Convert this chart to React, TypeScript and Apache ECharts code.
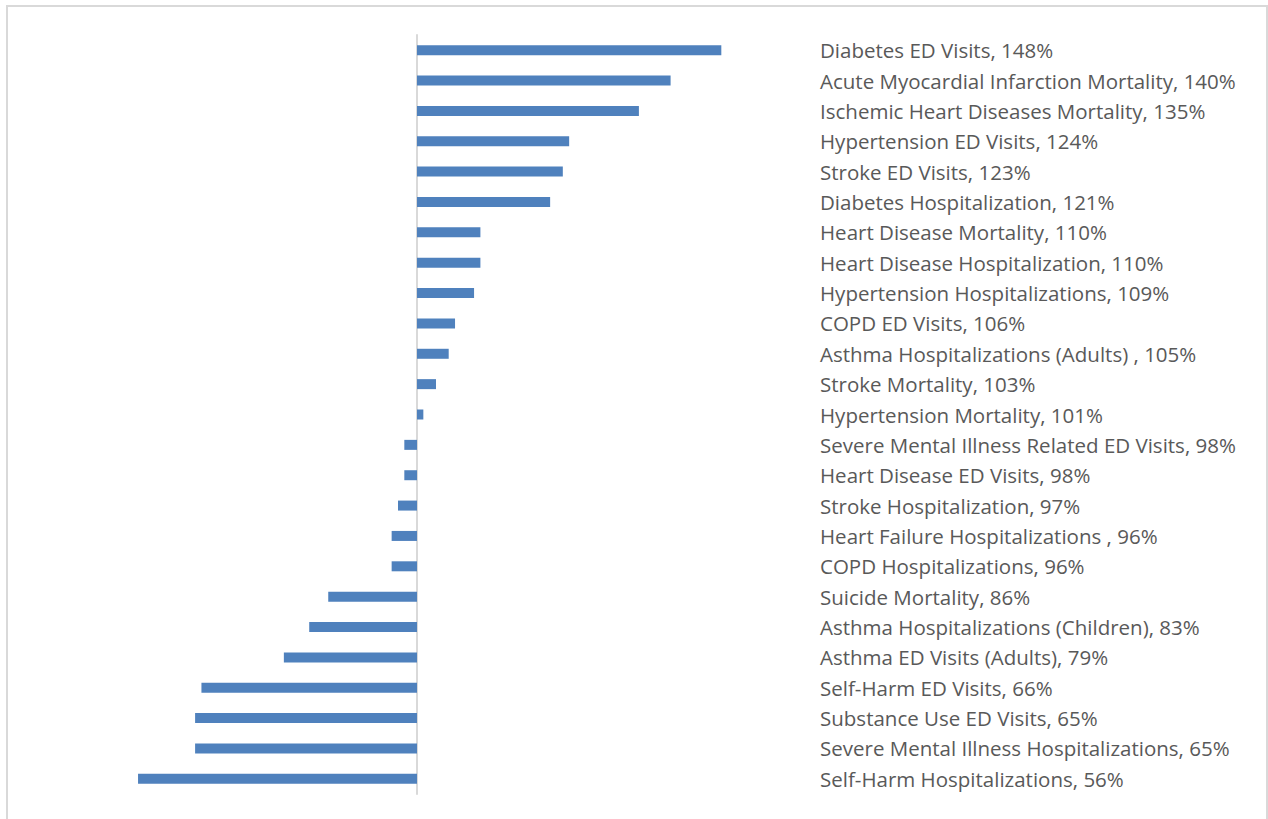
import React, { useEffect, useRef } from "react";
import * as echarts from "echarts";

// Rate ratios (%) by measure, ordered from highest to lowest
const measures: string[] = [
  "Diabetes ED Visits",
  "Acute Myocardial Infarction Mortality",
  "Ischemic Heart Diseases Mortality",
  "Hypertension ED Visits",
  "Stroke ED Visits",
  "Diabetes Hospitalization",
  "Heart Disease Mortality",
  "Heart Disease Hospitalization",
  "Hypertension Hospitalizations",
  "COPD ED Visits",
  "Asthma Hospitalizations (Adults) ",
  "Stroke Mortality",
  "Hypertension Mortality",
  "Severe Mental Illness Related ED Visits",
  "Heart Disease ED Visits",
  "Stroke Hospitalization",
  "Heart Failure Hospitalizations ",
  "COPD Hospitalizations",
  "Suicide Mortality",
  "Asthma Hospitalizations (Children)",
  "Asthma ED Visits (Adults)",
  "Self-Harm ED Visits",
  "Substance Use ED Visits",
  "Severe Mental Illness Hospitalizations",
  "Self-Harm Hospitalizations",
];

const ratios: number[] = [
  148, 140, 135, 124, 123, 121, 110, 110, 109, 106, 105, 103, 101, 98, 98, 97, 96, 96, 86, 83, 79, 66, 65,
  65, 56,
];

// Bars are drawn relative to the 100% reference line
const baseline = 100;

const labels = measures.map((m, i) => `${m}, ${ratios[i]}%`);
const deviations = ratios.map((r) => r - baseline);

export default function App() {
  const ref = useRef<HTMLDivElement>(null);

  useEffect(() => {
    if (!ref.current) return;
    const chart = echarts.init(ref.current, undefined, { renderer: "svg" });
    chart.setOption({
      animation: false,
      backgroundColor: "#ffffff",
      grid: { left: 100, right: 534, top: 35, height: 759, containLabel: false },
      xAxis: {
        type: "value",
        min: -50,
        max: 50,
        show: false,
      },
      yAxis: [
        {
          type: "category",
          data: labels,
          inverse: true,
          position: "left",
          axisLine: { show: true, onZero: true, lineStyle: { color: "#d9d9d9", width: 2 } },
          axisTick: { show: false },
          axisLabel: { show: false },
          splitLine: { show: false },
        },
        {
          type: "category",
          data: labels,
          inverse: true,
          position: "right",
          axisLine: { show: false },
          axisTick: { show: false },
          splitLine: { show: false },
          axisLabel: {
            show: true,
            margin: 86,
            align: "left",
            color: "#595959",
            fontFamily: "Open Sans",
            fontSize: 20.5,
          },
        },
      ],
      series: [
        {
          type: "bar",
          yAxisIndex: 0,
          data: deviations,
          barWidth: 10,
          itemStyle: { color: "#4f81bd" },
        },
      ],
    });
    return () => chart.dispose();
  }, []);

  return (
    <div style={{ position: "absolute", left: 0, top: 0, width: 1268, height: 819, background: "#fff" }}>
      <div ref={ref} style={{ position: "absolute", left: 0, top: 0, width: 1268, height: 819 }} />
      <div
        style={{
          position: "absolute",
          left: 6,
          top: 5,
          width: 1258,
          height: 830,
          border: "2px solid #d9d9d9",
          pointerEvents: "none",
        }}
      />
    </div>
  );
}
